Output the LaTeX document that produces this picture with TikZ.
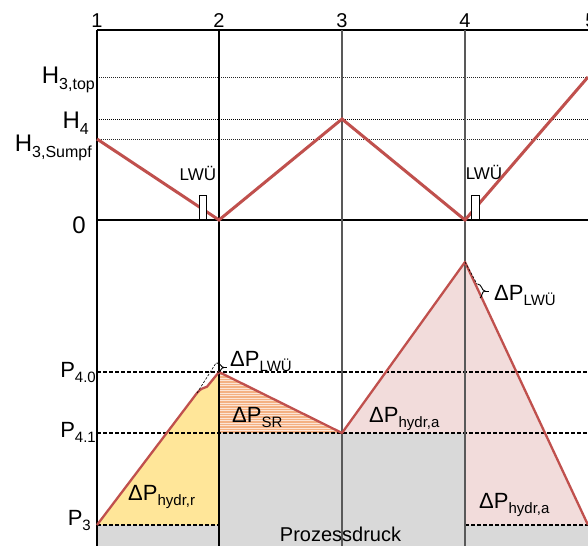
\documentclass[tikz,border=0pt]{standalone}
\usepackage{fontspec}
\setmainfont{Liberation Sans}
\definecolor{lred}{HTML}{C0504D}
\definecolor{lyel}{HTML}{FFE699}
\definecolor{lpink}{HTML}{F2DCDB}
\definecolor{lgray}{HTML}{D9D9D9}
\definecolor{lorange}{HTML}{F4B183}
\definecolor{lpeach}{HTML}{FCE4D6}
\definecolor{vgray}{HTML}{595959}
\newcommand{\hsub}[1]{\raisebox{-6pt}{\fontsize{16}{16}\selectfont #1}}
\newcommand{\psub}[1]{\raisebox{-5pt}{\fontsize{15}{15}\selectfont #1}}
\tikzset{
  bigtxt/.style={inner sep=0pt, font=\fontsize{24}{24}\selectfont},
  ptxt/.style={inner sep=0pt, font=\fontsize{22}{22}\selectfont},
  numtxt/.style={inner sep=0pt, font=\fontsize{20}{20}\selectfont},
  lwtxt/.style={inner sep=0pt, font=\fontsize{17}{17}\selectfont},
  hline/.style={line width=1pt, dash pattern=on 1pt off 1pt, black!85},
  pline/.style={line width=1.1pt, dash pattern=on 4pt off 2pt, black},
  axisline/.style={line width=1.1pt, black},
  gline/.style={line width=1.1pt, vgray},
  level/.style={line width=3pt, lred},
  press/.style={line width=2.3pt, lred, line join=round},
  lwbox/.style={draw=black, fill=white, line width=0.9pt},
  thin dash/.style={line width=0.6pt, dash pattern=on 2.5pt off 1.5pt, black},
  bracepath/.style={line width=0.9pt, black}
}
\begin{document}
\begin{tikzpicture}[x=1pt, y=-1pt]
\useasboundingbox (0,0) rectangle (588,546);
\fill[white] (0,0) rectangle (588,546);
% coordinates
\coordinate (c1) at (97,30);
\coordinate (c2) at (219,30);
\coordinate (c3) at (342,30);
\coordinate (c4) at (465,30);
\coordinate (c5) at (588,30);
% fills
\fill[lyel] (97,525) -- (197,393) .. controls (201,388) and (203,388.5) .. (207,386.7) -- (219,372) -- (219,525) -- cycle;
\fill[lpeach] (219,372) -- (342,433) -- (219,433) -- cycle;
\begin{scope}
\clip (219,372) -- (342,433) -- (219,433) -- cycle;
\foreach \yy in {372,374.5,...,434} {\draw[lorange, line width=1.2pt] (219,\yy) -- (342,\yy);}
\end{scope}
\fill[lpink] (342,433) -- (465,262) -- (588,525) -- (465,525) -- (465,433) -- cycle;
\fill[lgray] (97,525) rectangle (219,546);
\fill[lgray] (219,433) rectangle (465,546);
\fill[lgray] (465,525) rectangle (588,546);
% horizontal lines
\draw[axisline] (97,30) -- (588,30);
\draw[hline] (97,77) -- (588,77);
\draw[hline, black] (97,119) -- (588,119);
\draw[hline] (97,139) -- (588,139);
\draw[axisline] (97,220) -- (588,220);
\draw[pline] (97,372) -- (588,372);
\draw[pline] (97,433) -- (588,433);
\draw[pline] (97,525) -- (219,525);
\draw[pline] (465,525) -- (588,525);
% vertical lines
\draw[axisline] (c1) -- (97,546);
\draw[axisline] (c2) -- (219,546);
\draw[gline] (c3) -- (342,546);
\draw[gline] (c4) -- (465,546);
% level line
\draw[level, line join=miter] (97,139) -- (219,220) -- (342,119) -- (465,220) -- (588,77);
% LWÜ boxes
\draw[lwbox] (199.5,195.5) rectangle (206.5,219);
\draw[lwbox] (471.5,195.5) rectangle (479,219);
% pressure lines
\draw[press] (97,525) -- (197,393) .. controls (201,388) and (203,388.5) .. (207,386.7) -- (219,372) -- (342,433) -- (465,262) -- (588,525);
% LWÜ pressure detail 1
\draw[thin dash] (197,393) -- (216,363);
\draw[bracepath] (216.5,363) .. controls (221,362.5) and (220.5,367.5) .. (224,367.5)
  .. controls (220.5,367.5) and (221,372.5) .. (217.5,372.5);
\draw[bracepath] (224,367.5) -- (227,367.5);
% LWÜ pressure detail 2
\draw[thin dash] (465,262) -- (477,284);
\draw[bracepath] (477.5,284) .. controls (482,284) and (481.5,291) .. (485,291)
  .. controls (481.5,291) and (482,298) .. (480,298);
\draw[bracepath] (485,291) -- (489,291);
% top numbers
\node[numtxt, anchor=base] (n1) at (97,27) {1};
\node[numtxt, anchor=base] (n2) at (219,27) {2};
\node[numtxt, anchor=base] (n3) at (342,27) {3};
\node[numtxt, anchor=base] (n4) at (465,27) {4};
\node[numtxt, anchor=base] (n5) at (591,27) {5};
% left labels
\node[bigtxt, anchor=base east] (h3t) at (95,83) {H\hsub{3,top}};
\node[bigtxt, anchor=base east] (h4) at (89,128) {H\hsub{4}};
\node[bigtxt, anchor=base east] (h3s) at (92,151) {H\hsub{3,Sumpf}};
\node[bigtxt, anchor=base east] (z0) at (86,233) {0};
\node[ptxt, anchor=base east] (p40) at (96,377) {P\psub{4.0}};
\node[ptxt, anchor=base east] (p41) at (96,437) {P\psub{4.1}};
\node[ptxt, anchor=base east] (p3) at (91,525) {P\psub{3}};
% LWÜ labels
\node[lwtxt, anchor=base] (lw1) at (198,180) {LWÜ};
\node[lwtxt, anchor=base] (lw2) at (484,179) {LWÜ};
% delta P labels
\node[ptxt, anchor=base west] (dplw1) at (230,366) {ΔP\psub{LWÜ}};
\node[ptxt, anchor=base west] (dplw2) at (494,300) {ΔP\psub{LWÜ}};
\node[ptxt, anchor=base west] (dpsr) at (232,422) {ΔP\psub{SR}};
\node[ptxt, anchor=base west] (dpha1) at (369,422) {ΔP\psub{hydr,a}};
\node[ptxt, anchor=base west] (dpha2) at (479,508) {ΔP\psub{hydr,a}};
\node[ptxt, anchor=base west] (dphr) at (128,500) {ΔP\psub{hydr,r}};
\node[inner sep=0pt, anchor=base, font=\fontsize{20}{20}\selectfont] (proz) at (340.5,541) {Prozessdruck};
\end{tikzpicture}
\end{document}
